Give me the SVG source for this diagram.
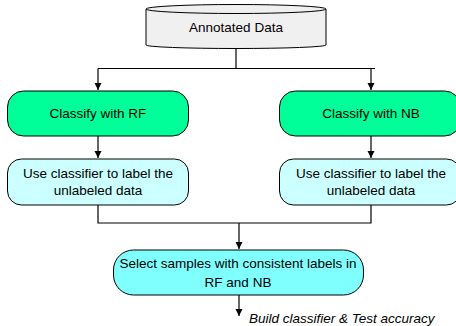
<svg xmlns="http://www.w3.org/2000/svg" width="456" height="326" viewBox="0 0 456 326">
<defs>
<marker id="arr" markerWidth="8" markerHeight="8" refX="7" refY="4" orient="auto" markerUnits="userSpaceOnUse">
<path d="M0,0.5 L7,4 L0,7.5 z" fill="#000"/>
</marker>
<style>
text{font-family:"Liberation Sans",Arial,sans-serif;font-size:13.5px;fill:#000;text-anchor:middle}
.b{stroke:#000;stroke-width:1}
.c{fill:none;stroke:#000;stroke-width:1.2}
</style>
</defs>
<rect width="456" height="326" fill="#fff"/>
<g id="connectors">
<path class="c" d="M236,48 V68.5"/>
<path class="c" d="M98,68.5 H375"/>
<path class="c" d="M98,68.5 V90" marker-end="url(#arr)"/>
<path class="c" d="M371,68.5 V90" marker-end="url(#arr)"/>
<path class="c" d="M98,136 V158" marker-end="url(#arr)"/>
<path class="c" d="M371,136 V158" marker-end="url(#arr)"/>
<path class="c" d="M98,205 V223 H371 V205"/>
<path class="c" d="M239,223 V249" marker-end="url(#arr)"/>
<path class="c" d="M239,295 V316" marker-end="url(#arr)"/>
</g>
<g id="annotated">
<path class="b" fill="#f0f0f0" d="M146,9 V45 A90,3.5 0 0 0 326,45 V9 A90,4.5 0 0 0 146,9 Z"/>
<path class="b" fill="none" d="M146,9 A90,4.5 0 0 0 326,9"/>
<text x="236" y="32">Annotated Data</text>
</g>
<g id="rf">
<rect class="b" x="7.5" y="91" width="181" height="45" rx="16" fill="#00ff99"/>
<text x="98" y="118">Classify with RF</text>
</g>
<g id="nb">
<rect class="b" x="279.5" y="91" width="181" height="45" rx="16" fill="#00ff99"/>
<text x="371" y="118">Classify with NB</text>
</g>
<g id="label-rf">
<rect class="b" x="7.5" y="159" width="181" height="46" rx="14" fill="#ccffff"/>
<text x="98" y="178">Use classifier to label the</text>
<text x="98" y="195">unlabeled data</text>
</g>
<g id="label-nb">
<rect class="b" x="279.5" y="159" width="181" height="46" rx="14" fill="#ccffff"/>
<text x="371" y="178">Use classifier to label the</text>
<text x="371" y="195">unlabeled data</text>
</g>
<g id="select">
<rect class="b" x="113.5" y="250" width="250" height="45" rx="20" fill="#80ffff"/>
<text x="238" y="268">Select samples with consistent labels in</text>
<text x="238" y="287">RF and NB</text>
</g>
<g id="build">
<text x="249" y="323" style="text-anchor:start;font-style:italic">Build classifier &amp; Test accuracy</text>
</g>
</svg>
